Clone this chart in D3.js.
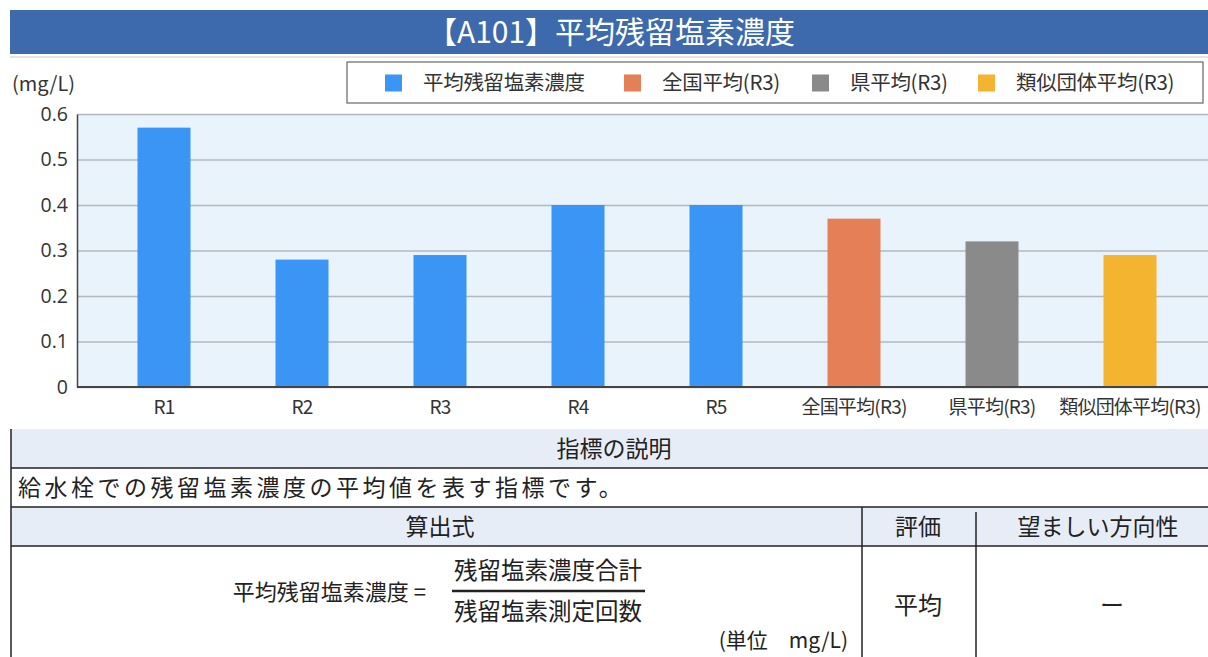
<!DOCTYPE html>
<html>
<head>
<meta charset="utf-8">
<script src="https://cdn.jsdelivr.net/npm/d3@7"></script>
<style>
  body { margin: 0; background: #fff; }
  text { font-family: "Noto Sans CJK JP", "Noto Sans", sans-serif; }
</style>
</head>
<body>
<div id="chart"></div>
<script>
// data
var categories = ["R1", "R2", "R3", "R4", "R5", "全国平均(R3)", "県平均(R3)", "類似団体平均(R3)"];
var values = [0.57, 0.28, 0.29, 0.40, 0.40, 0.37, 0.32, 0.29];
var groups = ["own", "own", "own", "own", "own", "nation", "pref", "similar"];
var legendNames = ["平均残留塩素濃度", "全国平均(R3)", "県平均(R3)", "類似団体平均(R3)"];
var legendKeys = ["own", "nation", "pref", "similar"];
var yTicks = [0, 0.1, 0.2, 0.3, 0.4, 0.5, 0.6];

var color = d3.scaleOrdinal()
    .domain(legendKeys)
    .range(["#3b95f4", "#e57f58", "#8a8a8a", "#f5b430"]);

var W = 1208, H = 657;
var svg = d3.select("#chart").append("svg")
    .attr("width", W)
    .attr("height", H);

// title bar
svg.append("rect")
    .attr("x", 10).attr("y", 10)
    .attr("width", W - 10).attr("height", 44)
    .attr("fill", "#3d69ad");
svg.append("line")
    .attr("x1", 10).attr("x2", W).attr("y1", 57).attr("y2", 57)
    .attr("stroke", "#e4e4e4").attr("stroke-width", 2);
svg.append("text")
    .attr("x", 611).attr("y", 32)
    .attr("dy", "0.36em")
    .attr("text-anchor", "middle")
    .attr("fill", "#fff")
    .attr("font-size", 30)
    .text("【A101】平均残留塩素濃度");

// plot
var plot = {left: 77, right: W, top: 114, bottom: 387};

var x = d3.scaleBand()
    .domain(categories)
    .range([95, 1199])
    .paddingInner(0.616)
    .paddingOuter(0.308);

var y = d3.scaleLinear()
    .domain([0, 0.6])
    .range([plot.bottom, plot.top]);

svg.append("rect")
    .attr("x", plot.left).attr("y", plot.top)
    .attr("width", plot.right - plot.left)
    .attr("height", plot.bottom - plot.top)
    .attr("fill", "#e8f3fb");

// grid
svg.append("g")
    .attr("transform", "translate(" + plot.left + ",0)")
    .call(d3.axisLeft(y).tickValues(yTicks).tickSize(-(plot.right - plot.left)).tickFormat(""))
    .call(function(g) { g.select(".domain").remove(); })
    .selectAll("line")
    .attr("stroke", "#b4b8bc")
    .attr("stroke-width", 1.3);

// bars
svg.selectAll(".bar")
    .data(values)
    .enter().append("rect")
    .attr("class", "bar")
    .attr("x", function(d, i) { return x(categories[i]); })
    .attr("y", function(d) { return y(d); })
    .attr("width", x.bandwidth())
    .attr("height", function(d) { return y(0) - y(d); })
    .attr("fill", function(d, i) { return color(groups[i]); });

// y axis
var yAxis = svg.append("g")
    .attr("transform", "translate(" + plot.left + ",0)")
    .call(d3.axisLeft(y).tickValues(yTicks).tickSize(0).tickPadding(9)
        .tickFormat(function(d) { return d === 0 ? "0" : d3.format(".1f")(d); }));
yAxis.select(".domain").attr("stroke", "#444").attr("stroke-width", 1.5);
yAxis.selectAll("text")
    .attr("font-size", 19.5)
    .attr("fill", "#333")
    .style("font-family", "'Open Sans', sans-serif");

// x axis
var xAxis = svg.append("g")
    .attr("transform", "translate(0," + plot.bottom + ")")
    .call(d3.axisBottom(x).tickSize(0).tickPadding(14));
xAxis.select(".domain")
    .attr("d", "M" + plot.left + ",0H" + plot.right)
    .attr("stroke", "#444").attr("stroke-width", 2);
xAxis.selectAll("text")
    .attr("font-size", 19)
    .attr("letter-spacing", "-0.8px")
    .attr("fill", "#333");

svg.append("text")
    .attr("x", 12).attr("y", 84)
    .attr("dy", "0.36em")
    .attr("font-size", 20)
    .attr("fill", "#333")
    .text("(mg/L)");

// legend
svg.append("rect")
    .attr("x", 347).attr("y", 62)
    .attr("width", 856).attr("height", 41)
    .attr("fill", "#fff")
    .attr("stroke", "#666")
    .attr("stroke-width", 1.2);

var legendX = [385, 624, 812, 978];
var leg = svg.selectAll(".leg")
    .data(legendKeys)
    .enter().append("g")
    .attr("class", "leg")
    .attr("transform", function(d, i) { return "translate(" + legendX[i] + ",83)"; });
leg.append("rect")
    .attr("x", 0).attr("y", -8.5)
    .attr("width", 17).attr("height", 17)
    .attr("fill", function(d) { return color(d); });
leg.append("text")
    .attr("x", 38).attr("dy", "0.36em")
    .attr("font-size", 20.5)
    .attr("letter-spacing", "-0.3px")
    .attr("fill", "#333")
    .text(function(d, i) { return legendNames[i]; });

// description table
var tbl = svg.append("g").attr("class", "table");
var rows = [
  {y: 429, h: 39, fill: "#e7edf6"},
  {y: 468, h: 39, fill: "#fff"},
  {y: 507, h: 39, fill: "#e7edf6"},
  {y: 546, h: 115, fill: "#fff"}
];
tbl.selectAll(".row")
    .data(rows)
    .enter().append("rect")
    .attr("x", 11).attr("y", function(d) { return d.y; })
    .attr("width", W - 11).attr("height", function(d) { return d.h; })
    .attr("fill", function(d) { return d.fill; });

var hLines = [468, 507, 546];
tbl.selectAll(".hl")
    .data(hLines)
    .enter().append("line")
    .attr("x1", 11).attr("x2", W)
    .attr("y1", function(d) { return d; }).attr("y2", function(d) { return d; })
    .attr("stroke", "#222").attr("stroke-width", 1.5);

var vLines = [[11, 429, H], [862, 507, H], [976, 512, H]];
tbl.selectAll(".vl")
    .data(vLines)
    .enter().append("line")
    .attr("x1", function(d) { return d[0]; }).attr("x2", function(d) { return d[0]; })
    .attr("y1", function(d) { return d[1]; }).attr("y2", function(d) { return d[2]; })
    .attr("stroke", "#222").attr("stroke-width", 1.5);

function cell(txt, cx, cy, anchor, size) {
  return tbl.append("text")
      .attr("x", cx).attr("y", cy)
      .attr("dy", "0.36em")
      .attr("text-anchor", anchor || "middle")
      .attr("font-size", size || 23)
      .attr("fill", "#222")
      .text(txt);
}

cell("指標の説明", 614, 449);
cell("給水栓での残留塩素濃度の平均値を表す指標です。", 18, 488, "start").attr("letter-spacing", "3.5px");
cell("算出式", 440, 527);
cell("評価", 918, 527);
cell("望ましい方向性", 1098, 527);

cell("平均残留塩素濃度 =", 426, 592, "end", 22);
cell("残留塩素濃度合計", 548, 571, "middle", 23.5);
cell("残留塩素測定回数", 548, 612, "middle", 23.5);
tbl.append("line")
    .attr("x1", 452).attr("x2", 645)
    .attr("y1", 591).attr("y2", 591)
    .attr("stroke", "#222").attr("stroke-width", 2.5);
cell("(単位　mg/L)", 848, 640, "end", 21);
cell("平均", 918, 605, "middle", 24);
cell("ー", 1112, 605, "middle", 24);
</script>
</body>
</html>
